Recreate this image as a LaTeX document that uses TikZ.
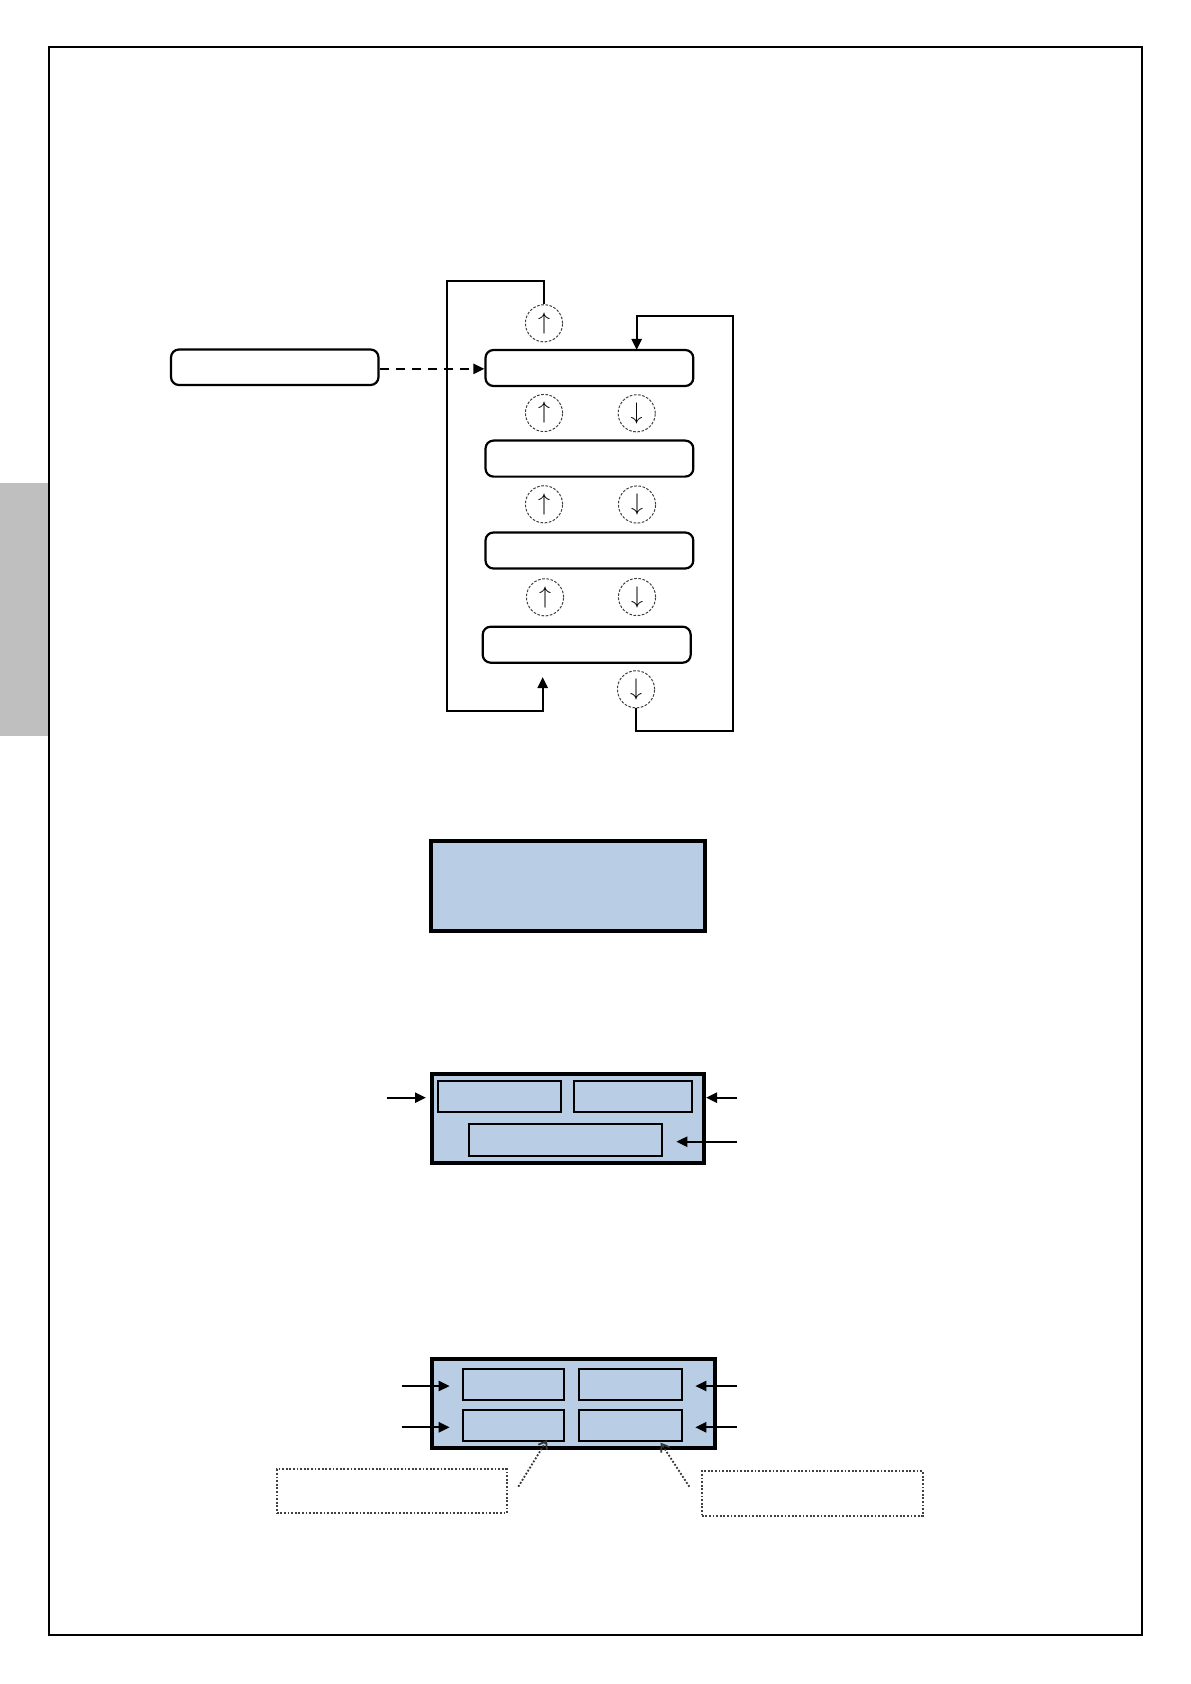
\documentclass[tikz,border=0pt]{standalone}
\usetikzlibrary{arrows.meta}
\definecolor{paleblue}{HTML}{B9CDE5}
\definecolor{tabgray}{HTML}{BFBFBF}
\tikzset{
  rbox/.style={draw,rounded corners=4pt,line width=1.1pt,inner sep=0pt,minimum width=103.9pt,minimum height=18pt},
  circ/.style={circle,draw=black!75,dash pattern=on 1.3pt off 0.8pt,line width=0.5pt,minimum size=18.6pt,inner sep=0pt,font=\fontsize{13}{13}\selectfont},
  conn/.style={line width=1.15pt},
  solidtip/.style={-{Triangle[length=5.5pt,width=5pt]}},
  bigblue/.style={draw,fill=paleblue,line width=2pt,inner sep=0pt},
  inblue/.style={draw,line width=1pt,inner sep=0pt},
  dotbox/.style={draw=black!75,dash pattern=on 0.9pt off 0.9pt,line width=0.9pt,inner sep=0pt},
  dotarrow/.style={draw=black!80,dash pattern=on 0.9pt off 0.9pt,line width=0.9pt,-{Straight Barb[length=3.5pt,width=5pt]}}
}
\begin{document}
\begin{tikzpicture}[x=0.5pt,y=-0.5pt]
\useasboundingbox (0,0) rectangle (1190,1684);
% page frame and side tab
\fill[tabgray] (0,483) rectangle (47.5,736);
\draw[line width=1pt] (48.5,47) rectangle (1142,1635);

% ---- top diagram ----
\node[rbox,minimum width=103.75pt,minimum height=17.75pt] (src) at (274.75,367.25) {};
\node[rbox] (b1) at (589.4,368) {};
\node[rbox] (b2) at (589.4,458.6) {};
\node[rbox] (b3) at (589.4,550.5) {};
\node[rbox,minimum width=104pt] (b4) at (586.7,644.7) {};

\node[circ] (u0) at (544,323.3) {$\uparrow$};
\node[circ] (u1) at (544,413) {$\uparrow$};
\node[circ] (d1) at (636.7,413.3) {$\downarrow$};
\node[circ] (u2) at (544,504.3) {$\uparrow$};
\node[circ] (d2) at (637,504.5) {$\downarrow$};
\node[circ] (u3) at (545,597.3) {$\uparrow$};
\node[circ] (d3) at (637,597) {$\downarrow$};
\node[circ] (d4) at (636,689.3) {$\downarrow$};

\draw[conn,dash pattern=on 4.5pt off 3.5pt,solidtip] ([yshift=-0.8pt]src.east) -- ([yshift=-0.8pt]src.east -| b1.west);
\coordinate (in4) at (542.7,677);
\draw[conn,solidtip] (u0.north) |- (447,281) |- (542.7,711) -- (in4);
\draw[conn,solidtip] (d4.south) |- (733.3,730.7) |- (636.7,315.7) -- (636.7,350);

% ---- first blue box ----
\node[bigblue,minimum width=136.85pt,minimum height=44.85pt] (blue1) at (567.85,885.85) {};

% ---- second blue box ----
\node[bigblue,minimum width=136pt,minimum height=44.5pt] (blue2) at (568,1118.5) {};
\node[inblue,minimum width=61.5pt,minimum height=15.35pt] (p1) at (499.8,1096.35) {};
\node[inblue,minimum width=59pt,minimum height=15.35pt] (p2) at (633.3,1096.35) {};
\node[inblue,minimum width=96.5pt,minimum height=16pt] (p3) at (565.8,1140.3) {};
\coordinate (a1) at (387.3,1097.7);
\coordinate (a2) at (737.3,1097.7);
\coordinate (a3) at (737.3,1141.7);
\draw[conn,solidtip,shorten >=2pt] (a1) -- (a1 -| blue2.west);
\draw[conn,solidtip] (a2) -- (a2 -| blue2.east);
\draw[conn,solidtip,shorten >=6.5pt] (a3) -- (a3 -| p3.east);

% ---- third blue box ----
\node[bigblue,minimum width=141.35pt,minimum height=44.65pt] (blue3) at (573.35,1403.35) {};
\node[inblue,minimum width=50.65pt,minimum height=15.5pt] (q1) at (513.35,1384.5) {};
\node[inblue,minimum width=51.8pt,minimum height=15.5pt] (q2) at (630.5,1384.5) {};
\node[inblue,minimum width=50.65pt,minimum height=15.5pt] (q3) at (513.35,1425.2) {};
\node[inblue,minimum width=51.8pt,minimum height=15.5pt] (q4) at (630.5,1425.2) {};
\coordinate (c1) at (401.7,1386);
\coordinate (c2) at (401.7,1427.3);
\coordinate (c3) at (737.3,1386);
\coordinate (c4) at (737.3,1427.3);
\draw[conn,solidtip,shorten >=6pt] (c1) -- (c1 -| q1.west);
\draw[conn,solidtip,shorten >=6pt] (c2) -- (c2 -| q3.west);
\draw[conn,solidtip,shorten >=6pt] (c3) -- (c3 -| q2.east);
\draw[conn,solidtip,shorten >=6pt] (c4) -- (c4 -| q4.east);

\node[dotbox,minimum width=115pt,minimum height=22pt] (n1) at (391.7,1491.3) {};
\node[dotbox,minimum width=110.5pt,minimum height=22.35pt] (n2) at (812.2,1493.35) {};
\coordinate (t1) at (518.3,1486.7);
\coordinate (t2) at (689.3,1486.7);
\draw[dotarrow] (t1) -- (547,1440);
\draw[dotarrow] (t2) -- (660.7,1442.7);
\end{tikzpicture}
\end{document}
